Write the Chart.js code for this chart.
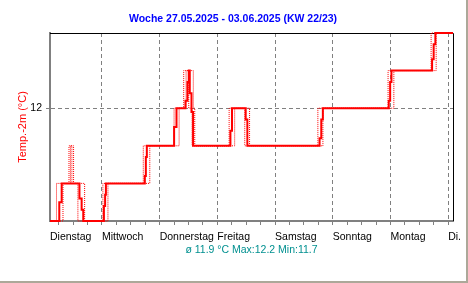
<!DOCTYPE html>
<html>
<head>
<meta charset="utf-8">
<script src="https://cdn.jsdelivr.net/npm/chart.js@4.4.0/dist/chart.umd.min.js"></script>
<style>
  body { margin: 0; background: #fff; }
  #wrap { width: 466px; height: 281px; border-right: 2px solid #aca899; border-bottom: 2px solid #aca899; }
  canvas { display: block; }
</style>
</head>
<body>
<div id="wrap"><canvas id="chart" width="466" height="281"></canvas></div>
<script>
// x values are hours since Tuesday 27.05.2025 00:00
const startHour = 2.4;
const endHour = 170;
const dayLabels = ['Dienstag', 'Mittwoch', 'Donnerstag', 'Freitag', 'Samstag', 'Sonntag', 'Montag', 'Di.'];
const tempTicks = [12];

// main temperature (solid)
const mainHours = [2.4, 6.26, 7.26, 14.65, 15.56, 16.23, 24.82, 25.32, 25.65, 41.84, 42.26, 42.67,
  54.01, 55.01, 58.74, 59.57, 60.11, 60.53, 61.24, 61.9, 77.43, 78.09, 83.78, 84.48,
  114.51, 115.22, 115.88, 143.28, 143.86, 144.4, 161.3, 161.96, 162.67, 170];
const mainTemps = [11.7, 11.75, 11.8, 11.76, 11.73, 11.7, 11.74, 11.77, 11.8, 11.82, 11.87, 11.9,
  11.95, 12.0, 12.02, 12.07, 12.1, 12.04, 11.99, 11.9, 11.94, 12.0, 11.97, 11.9,
  11.92, 11.97, 12.0, 12.02, 12.07, 12.1, 12.13, 12.17, 12.2, 12.2];

// dotted lines
const earlyHours = [2.4, 5.1, 10.3, 11.5, 14.0, 24.4, 41.2, 54.0, 58.0, 60.1, 61.5, 76.9, 83.4, 113.8, 143.0, 160.9, 170];
const earlyTemps = [11.7, 11.8, 11.9, 11.8, 11.7, 11.8, 11.9, 12.0, 12.1, 12.0, 11.9, 12.0, 11.9, 12.0, 12.1, 12.2, 12.2];
const lateHours = [2.4, 7.8, 10.9, 12.2, 16.8, 26.5, 43.9, 56.1, 59.0, 62.0, 62.6, 79.2, 85.4, 115.9, 145.4, 163.0, 170];
const lateTemps = [11.7, 11.8, 11.9, 11.8, 11.7, 11.8, 11.9, 12.0, 12.1, 12.0, 11.9, 12.0, 11.9, 12.0, 12.1, 12.2, 12.2];

const fontFamily = "'Liberation Sans', Arial, sans-serif";

function toPoints(xs, ys) {
  return xs.map((x, i) => ({ x: x, y: ys[i] }));
}

// tick marks every 6 hours, plus one at the left edge for the first label
const tickHours = [startHour];
for (let h = 6; h <= 168; h += 6) tickHours.push(h);

// black top and right frame of the plot
const frameLines = {
  id: 'frameLines',
  beforeDatasetsDraw(chart) {
    const { ctx, chartArea: a } = chart;
    ctx.save();
    ctx.strokeStyle = '#000';
    ctx.lineWidth = 1;
    ctx.beginPath();
    ctx.moveTo(a.left, a.top + 0.5);
    ctx.lineTo(a.right + 0.5, a.top + 0.5);
    ctx.lineTo(a.right + 0.5, a.bottom);
    ctx.stroke();
    ctx.restore();
  }
};

const dotted = {
  borderColor: '#ff0000',
  borderWidth: 1,
  borderDash: [1, 1],
  pointRadius: 0,
  stepped: true,
  clip: 4
};

new Chart(document.getElementById('chart'), {
  type: 'line',
  data: {
    datasets: [
      Object.assign({ data: toPoints(earlyHours, earlyTemps) }, dotted),
      Object.assign({ data: toPoints(lateHours, lateTemps) }, dotted),
      {
        data: toPoints(mainHours, mainTemps),
        borderColor: '#ff0000',
        borderWidth: 2,
        pointRadius: 0,
        stepped: true,
        clip: 4
      }
    ]
  },
  options: {
    responsive: false,
    animation: false,
    layout: { padding: 0 },
    plugins: {
      legend: { display: false },
      tooltip: { enabled: false },
      title: {
        display: true,
        text: 'Woche 27.05.2025 - 03.06.2025 (KW 22/23)',
        color: '#0000ff',
        font: { family: fontFamily, size: 10.5, weight: 'bold' },
        padding: { top: 12.6, bottom: 7.8 }
      },
      subtitle: {
        display: true,
        position: 'bottom',
        fullSize: false,
        text: 'ø 11.9 °C Max:12.2 Min:11.7',
        color: '#009090',
        font: { family: fontFamily, size: 10.5 },
        padding: { top: 0.6, bottom: 24.8 }
      }
    },
    scales: {
      x: {
        type: 'linear',
        min: startHour,
        max: endHour,
        afterBuildTicks(scale) {
          scale.ticks = tickHours.map(v => ({ value: v }));
        },
        afterFit(scale) {
          scale.height = 22;
          scale.paddingLeft = 0;
          scale.paddingRight = 13;
        },
        grid: {
          color: ctx => (ctx.tick && ctx.tick.value % 24 === 0) ? '#808080' : 'rgba(0,0,0,0)',
          tickColor: ctx => (ctx.tick && ctx.tick.value === startHour) ? 'rgba(0,0,0,0)' : '#808080',
          tickLength: 4
        },
        border: { color: '#808080', width: 2, dash: [4, 3] },
        ticks: {
          autoSkip: false,
          maxRotation: 0,
          align: 'start',
          padding: 5.6,
          color: '#000',
          font: { family: fontFamily, size: 10.5 },
          callback: v => v === startHour ? dayLabels[0] : (v % 24 === 0 ? dayLabels[v / 24] : '')
        }
      },
      y: {
        type: 'linear',
        min: 11.7,
        max: 12.2,
        afterBuildTicks(scale) {
          scale.ticks = tempTicks.map(v => ({ value: v }));
        },
        afterFit(scale) {
          scale.width = 50;
          scale.paddingTop = 0;
          scale.paddingBottom = 0;
        },
        grid: { color: '#808080', tickLength: 4 },
        border: { color: '#808080', width: 2, dash: [4, 3] },
        ticks: {
          padding: 4,
          color: '#000',
          font: { family: fontFamily, size: 10.5 },
          callback: v => String(v)
        },
        title: {
          display: true,
          text: 'Temp.-2m (°C)',
          color: '#ff0000',
          font: { family: fontFamily, size: 11 },
          padding: { top: 16.3, bottom: 0 }
        }
      }
    }
  },
  plugins: [frameLines]
});
</script>
</body>
</html>
